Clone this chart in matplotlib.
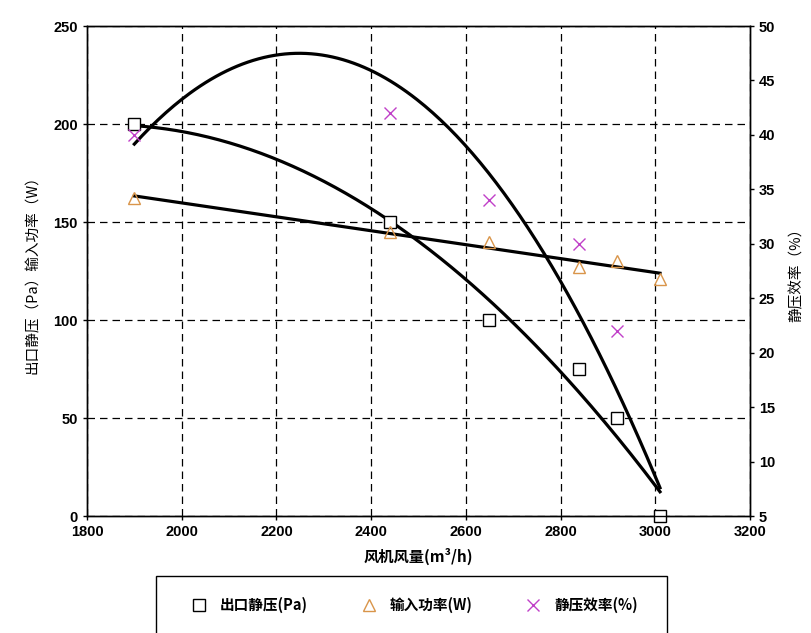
import numpy as np
import matplotlib.pyplot as plt
from matplotlib.patches import Rectangle

plt.rcParams['font.family'] = ['Liberation Sans', 'Noto Sans CJK SC', 'DejaVu Sans']

# data
airflow = [1900, 2440, 2650, 2840, 2920, 3010]
pressure = [200, 150, 100, 75, 50, 0]          # 出口静压 (Pa)
power = [162, 145, 140, 127, 130, 121]         # 输入功率 (W)
efficiency = [40, 42, 34, 30, 22, 0]           # 静压效率 (%)

x_ticks = [1800, 2000, 2200, 2400, 2600, 2800, 3000, 3200]
left_ticks = [0, 50, 100, 150, 200, 250]
right_ticks = [5, 10, 15, 20, 25, 30, 35, 40, 45, 50]

cjk = ['Noto Sans CJK SC', 'DejaVu Sans']

fig = plt.figure(figsize=(8.12, 6.33), dpi=100)
ax = fig.add_axes([0.1071, 0.1848, 0.8165, 0.7741])
ax2 = ax.twinx()

# trend lines (Excel style: poly2 / linear / poly2)
xs = np.linspace(min(airflow), max(airflow), 200)
fit_p = np.polyfit(airflow, pressure, 2)
fit_w = np.polyfit(airflow, power, 1)
fit_e = np.polyfit(airflow, efficiency, 2)
ax.plot(xs, np.polyval(fit_p, xs), color='black', lw=2.3, zorder=3)
ax.plot(xs, np.polyval(fit_w, xs), color='black', lw=2.3, zorder=3)
ax2.plot(xs, np.polyval(fit_e, xs), color='black', lw=2.3, zorder=3)

h1, = ax.plot(airflow, pressure, 's', ms=8, mfc='white', mec='black', mew=1.0,
              zorder=4, clip_on=False, label='出口静压(Pa)')
h2, = ax.plot(airflow, power, '^', ms=8, mfc='none', mec='#d9954a', mew=1.0,
              zorder=4, label='输入功率(W)')
h3, = ax2.plot(airflow, efficiency, 'x', ms=8, color='#c040c8', mew=1.0,
               zorder=4, label='静压效率(%)')

ax.set_xlim(1800, 3200)
ax.set_ylim(0, 250)
ax2.set_ylim(5, 50)
ax.set_xticks(x_ticks)
ax.set_yticks(left_ticks)
ax2.set_yticks(right_ticks)

ax.grid(True, color='black', ls=(0, (6, 4)), lw=0.9)
ax.set_axisbelow(True)

for a in (ax, ax2):
    a.tick_params(labelsize=10.5, length=3, width=1, color='black')
    for lab in a.get_xticklabels() + a.get_yticklabels():
        lab.set_fontweight('bold')
    for s in a.spines.values():
        s.set_linewidth(1.0)
        s.set_color('black')

ax.set_xlabel('风机风量(m³/h)', family=cjk, fontsize=11, fontweight='bold', labelpad=6)
ax.set_ylabel('出口静压（Pa）输入功率（W）', family=cjk, fontsize=10.5, labelpad=10)
ax2.set_ylabel('静压效率（%）', family=cjk, fontsize=10.5, labelpad=10)

# legend box (runs off the bottom of the image)
fig.patches.append(Rectangle((156 / 812, -0.05), (667 - 156) / 812, 0.05 + (633 - 576) / 633,
                             transform=fig.transFigure, fill=False, ec='black', lw=1.0))
fig.legend(handles=[h1, h2, h3], loc='center', bbox_to_anchor=(413 / 812, 1 - 605 / 633),
           ncol=3, frameon=False, columnspacing=3.4, handletextpad=0.7, handlelength=1.5,
           prop={'family': cjk, 'weight': 'bold', 'size': 10.5})

fig.savefig('out.png', dpi=100)
